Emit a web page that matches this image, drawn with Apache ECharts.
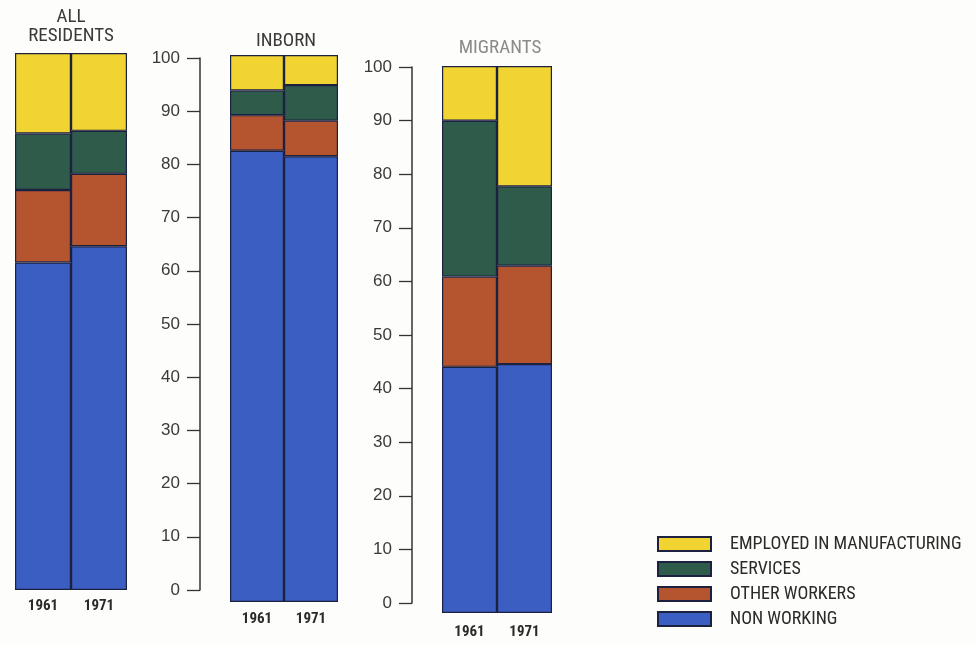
<!DOCTYPE html>
<html><head><meta charset="utf-8">
<script src="https://cdn.jsdelivr.net/npm/echarts@6/dist/echarts.min.js"></script>
<style>html,body{margin:0;padding:0;background:#fdfdfb}#c{width:976px;height:645px}</style>
</head><body><div id="c"></div>
<script>
const categories = ['1961', '1971'];
const seriesNames = ['EMPLOYED IN MANUFACTURING', 'SERVICES', 'OTHER WORKERS', 'NON WORKING'];
const yTicks = [0, 10, 20, 30, 40, 50, 60, 70, 80, 90, 100];

// ALL RESIDENTS
const allNonWorking = [61, 64];
const allOther = [13.5, 13.5];
const allServices = [10.5, 8];
const allManufacturing = [15, 14.5];
// INBORN
const inbornNonWorking = [82.5, 81.5];
const inbornOther = [6.5, 6.5];
const inbornServices = [4.5, 6.5];
const inbornManufacturing = [6.5, 5.5];
// MIGRANTS
const migNonWorking = [45, 45.5];
const migOther = [16.5, 18];
const migServices = [28.5, 14.5];
const migManufacturing = [10, 22];

const colors = {
  'EMPLOYED IN MANUFACTURING': '#f1d431',
  'SERVICES': '#2f5b4b',
  'OTHER WORKERS': '#b5552f',
  'NON WORKING': '#3b5ec2'
};
const narrow = '"Liberation Sans Narrow", "Roboto Condensed", "DejaVu Sans Condensed", sans-serif';

const panels = [
  {data: [allNonWorking, allOther, allServices, allManufacturing]},
  {data: [inbornNonWorking, inbornOther, inbornServices, inbornManufacturing]},
  {data: [migNonWorking, migOther, migServices, migManufacturing]}
];
const stackOrder = ['NON WORKING', 'OTHER WORKERS', 'SERVICES', 'EMPLOYED IN MANUFACTURING'];

const grids = [
  {left: 15, top: 53, width: 112, height: 537},
  {left: 230, top: 55, width: 108, height: 547},
  {left: 442, top: 66, width: 110, height: 547},
  {left: 200, top: 58, width: 1, height: 532},
  {left: 412, top: 67, width: 1, height: 536}
];
const labelMargins = [9, 10, 12];

const xAxes = [], yAxes = [], series = [];
for (let i = 0; i < 3; i++) {
  xAxes.push({
    gridIndex: i, type: 'category', data: categories,
    axisLine: {show: false}, axisTick: {show: false},
    axisLabel: {margin: labelMargins[i], fontFamily: narrow, fontWeight: 'bold', fontSize: 15, color: '#2a2a2a'}
  });
  yAxes.push({gridIndex: i, type: 'value', min: 0, max: 100, show: false});
  panels[i].data.forEach((arr, k) => {
    const name = stackOrder[k];
    series.push({
      name: name, type: 'bar', stack: 'p' + i, xAxisIndex: i, yAxisIndex: i,
      data: arr, barCategoryGap: '0%',
      itemStyle: {color: colors[name], borderColor: '#1c2140', borderWidth: 1.2}
    });
  });
}
for (let i = 3; i < 5; i++) {
  xAxes.push({gridIndex: i, type: 'value', min: 0, max: 1, show: false});
  yAxes.push({
    gridIndex: i, type: 'value', min: 0, max: 100, interval: 10,
    axisLine: {show: true, lineStyle: {color: '#333', width: 1.5}},
    axisTick: {show: true, length: 13, lineStyle: {color: '#333', width: 1.3}},
    axisLabel: {margin: 20, fontSize: 17, color: '#3a3a3a', fontFamily: '"Liberation Sans", Arial, sans-serif',
      formatter: v => yTicks.includes(v) ? String(v) : ''},
    splitLine: {show: false}
  });
}

const chart = echarts.init(document.getElementById('c'), null, {renderer: 'canvas'});
chart.setOption({
  backgroundColor: '#fdfdfb',
  animation: false,
  grid: grids,
  xAxis: xAxes,
  yAxis: yAxes,
  series: series,
  legend: {
    data: seriesNames.map(n => ({name: n, icon: 'rect'})),
    orient: 'vertical', left: 652, top: 530,
    itemWidth: 53, itemHeight: 14, itemGap: 7,
    textStyle: {fontFamily: narrow, fontSize: 18, color: '#2a2a2a', padding: [0, 0, 0, 14]},
    selectedMode: false
  },
  graphic: [
    {type: 'text', style: {text: 'ALL\nRESIDENTS', x: 71, y: 8, align: 'center', fontFamily: narrow, fontSize: 19, lineHeight: 19, fill: '#3a3a3a'}},
    {type: 'text', style: {text: 'INBORN', x: 286, y: 32, align: 'center', fontFamily: narrow, fontSize: 19, fill: '#3a3a3a'}},
    {type: 'text', style: {text: 'MIGRANTS', x: 500, y: 39, align: 'center', fontFamily: narrow, fontSize: 19, fill: '#8a8a8a'}}
  ]
});
</script></body></html>
